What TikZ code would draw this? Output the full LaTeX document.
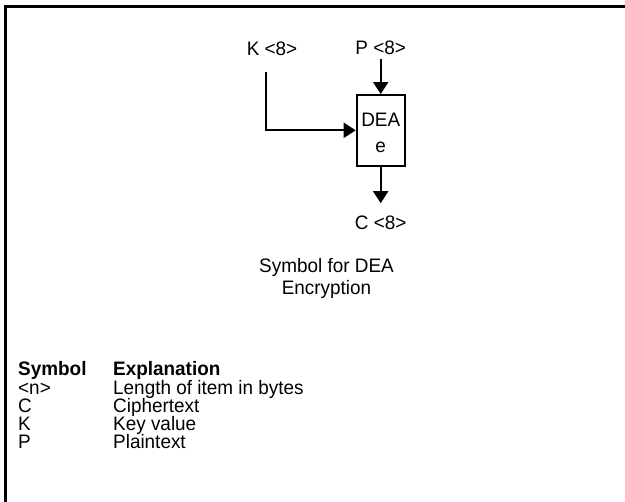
\documentclass[tikz,border=0pt]{standalone}
\usepackage{fontspec}
\setmainfont{Liberation Sans}[FakeStretch=0.97]
\usetikzlibrary{arrows.meta,positioning}

\begin{document}
\begin{tikzpicture}[x=1pt, y=-1pt,
  lbl/.style={inner sep=0pt, anchor=base, font=\fontsize{19.5}{24}\selectfont},
  col/.style={lbl, anchor=base west},
  hdr/.style={col, font=\fontsize{19.5}{24}\selectfont\bfseries},
  blk/.style={draw, line width=2pt, minimum width=48pt, minimum height=70.5pt,
              inner sep=0pt},
  arr/.style={-{Triangle[length=12pt, width=15pt]}, line width=2pt},
  frame/.style={line width=3pt}
]
\useasboundingbox (0,0) rectangle (625,502);
% ── Frame ─────────────────────────────
\draw[frame] (5,505) -- (5,7) -- (630,7);
% ── Symbol ────────────────────────────
\node[lbl] (kin)  at (272,56)     {K <8>};
\node[lbl] (pin)  at (380.7,55)   {P <8>};
\node[blk] (dea)  at (380.7,130.3) {};
\node[lbl] (dea1) at (380.7,127)  {DEA};
\node[lbl] (dea2) at (380.7,153)  {e};
\node[lbl] (cout) at (380.7,230)  {C <8>};
\coordinate (ktail) at (266,72);
\draw[arr] (ktail) |- (dea.west);
\draw[arr, shorten <=4pt] (pin.south) -- (dea.north);
\draw[arr, shorten >=13pt] (dea.south) -- (cout.north);
\node[lbl] (cap1) at (326.5,273) {Symbol for DEA};
\node[lbl] (cap2) at (326.5,295) {Encryption};
% ── Legend ────────────────────────────
\node[hdr] (symh) at (18,376)  {Symbol};
\node[hdr] (txth) at (113,376) {Explanation};
\foreach \sym/\txt [count=\i] in {<n>/Length of item in bytes, C/Ciphertext,
                                  K/Key value, P/Plaintext}
{
  \node[col] (sym\i) at (18,376+18.2*\i)  {\sym};
  \node[col] (txt\i) at (113,376+18.2*\i) {\txt};
}
\end{tikzpicture}
\end{document}
